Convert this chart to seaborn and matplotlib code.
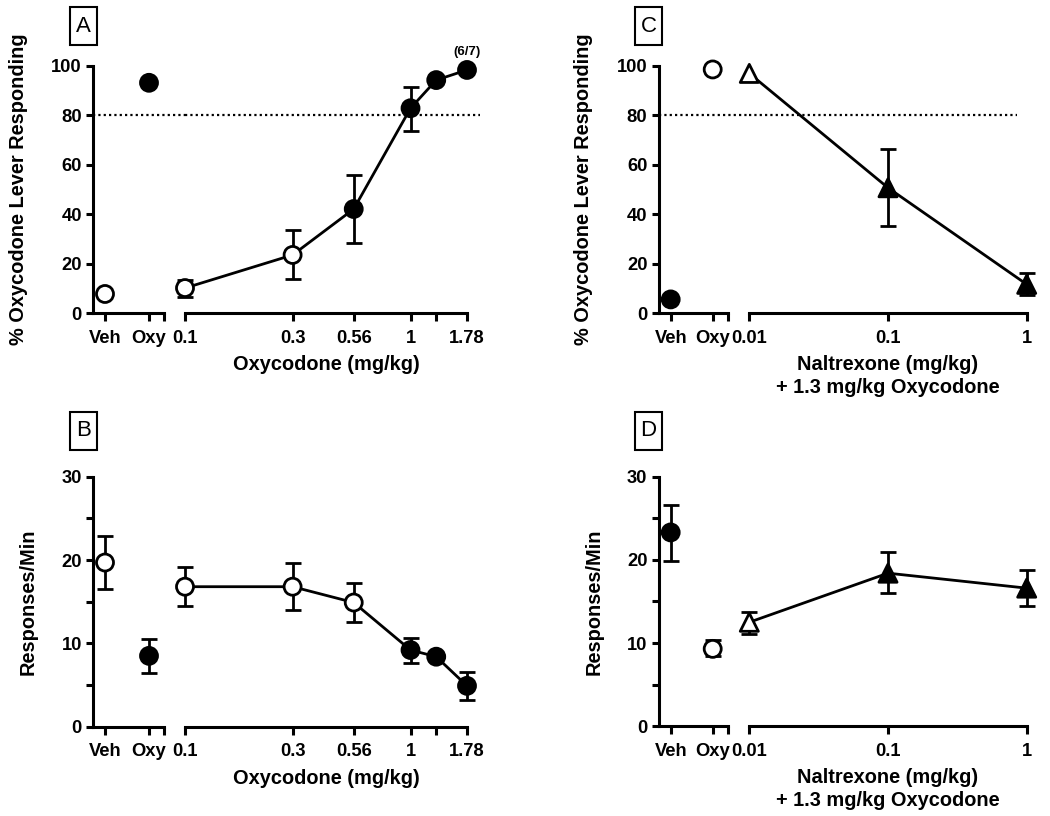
import numpy as np
import pandas as pd
import matplotlib
matplotlib.use('Agg')
import matplotlib.pyplot as plt
from matplotlib.patches import Rectangle
from matplotlib.ticker import NullLocator
import seaborn as sns

# ---- data ----
ctrl_labels = ['Veh', 'Oxy']

# A: % oxycodone lever responding vs oxycodone dose
a_ctrl_y = [7.7, 93.2]
a_ctrl_lo = [np.nan, np.nan]
a_ctrl_hi = [np.nan, np.nan]
a_ctrl_fill = ['open', 'filled']
a_dose = [0.1, 0.3, 0.56, 1.0, 1.3, 1.78]
a_dose_labels = ['0.1', '0.3', '0.56', '1', '', '1.78']
a_y = [10.1, 23.5, 42.1, 82.9, 94.3, 98.4]
a_lo = [6.3, 13.8, 28.5, 73.8, np.nan, np.nan]
a_hi = [13.4, 33.6, 56.0, 91.4, np.nan, np.nan]
a_fill = ['open', 'open', 'filled', 'filled', 'filled', 'filled']

# B: response rate vs oxycodone dose
b_ctrl_y = [19.7, 8.5]
b_ctrl_lo = [16.5, 6.5]
b_ctrl_hi = [22.9, 10.5]
b_ctrl_fill = ['open', 'filled']
b_y = [16.8, 16.8, 14.9, 9.2, 8.4, 4.9]
b_lo = [14.5, 14.0, 12.6, 7.6, np.nan, 3.2]
b_hi = [19.2, 19.7, 17.2, 10.7, np.nan, 6.6]
b_fill = ['open', 'open', 'open', 'filled', 'filled', 'filled']

# C: % oxycodone lever responding vs naltrexone dose (+1.3 mg/kg oxycodone)
c_ctrl_y = [5.5, 98.6]
c_ctrl_lo = [np.nan, np.nan]
c_ctrl_hi = [np.nan, np.nan]
c_ctrl_fill = ['filled', 'open']
c_dose = [0.01, 0.1, 1.0]
c_dose_labels = ['0.01', '0.1', '1']
c_y = [97.0, 50.7, 11.6]
c_lo = [np.nan, 35.4, 7.3]
c_hi = [np.nan, 66.3, 16.3]
c_fill = ['open', 'filled', 'filled']

# D: response rate vs naltrexone dose
d_ctrl_y = [23.3, 9.3]
d_ctrl_lo = [19.9, 8.4]
d_ctrl_hi = [26.6, 10.4]
d_ctrl_fill = ['filled', 'open']
d_y = [12.5, 18.4, 16.6]
d_lo = [11.1, 16.0, 14.4]
d_hi = [13.7, 21.0, 18.8]
d_fill = ['open', 'filled', 'filled']

sns.set_theme(style='ticks')
plt.rcParams['font.family'] = ['Liberation Sans', 'DejaVu Sans']
plt.rcParams['font.weight'] = 'bold'
plt.rcParams['axes.labelweight'] = 'bold'
plt.rcParams['text.color'] = 'black'
plt.rcParams['axes.labelcolor'] = 'black'

W, H = 1050, 816
fig = plt.figure(figsize=(W / 100, H / 100), dpi=100)

fill_pal = {'open': 'white', 'filled': 'black'}
TICK_FS = 13.2
LABEL_FS = 14.4


def box(x0, x1, y0, y1):
    return [x0 / W, 1 - y1 / H, (x1 - x0) / W, (y1 - y0) / H]


def draw_points(ax, x, y, lo, hi, fill, marker, size):
    x = np.asarray(x, float)
    y = np.asarray(y, float)
    lo = np.asarray(lo, float)
    hi = np.asarray(hi, float)
    ok = ~np.isnan(lo)
    if ok.any():
        ax.errorbar(x[ok], y[ok], yerr=[y[ok] - lo[ok], hi[ok] - y[ok]], fmt='none',
                    ecolor='black', elinewidth=2, capsize=6, capthick=2,
                    zorder=2, clip_on=False)
    df = pd.DataFrame({'x': x, 'y': y, 'fill': fill})
    sns.scatterplot(data=df, x='x', y='y', hue='fill', palette=fill_pal, marker=marker,
                    s=size, edgecolor='black', linewidth=2, legend=False, ax=ax,
                    zorder=4, clip_on=False)


def panel(xl, xr, yb, ylim, yticks, ylabel, xlabel,
          ctrl_y, ctrl_lo, ctrl_hi, ctrl_fill, ctrl_px,
          dose, dose_labels, y, lo, hi, fill, marker, minor=None, dotted=None):
    # left part: Veh / Oxy controls
    axl = fig.add_axes(box(xl[0], xl[1], yb[0], yb[1]))
    pos = np.arange(len(ctrl_labels))
    step = ctrl_px[1] - ctrl_px[0]
    lo_lim = (xl[0] - ctrl_px[0]) / step
    hi_lim = (xl[1] - ctrl_px[0]) / step
    draw_points(axl, pos, ctrl_y, ctrl_lo, ctrl_hi, ctrl_fill, 'o', 150)
    axl.set_xlim(lo_lim, hi_lim)
    axl.set_ylim(*ylim)
    axl.set_xticks(list(pos) + [hi_lim])
    axl.set_xticklabels(ctrl_labels + [''])
    axl.set_yticks(yticks)
    if minor is not None:
        axl.set_yticks(minor, minor=True)
    axl.set_ylabel(ylabel, fontsize=LABEL_FS, labelpad=17)
    axl.set_xlabel('')
    # right part: log dose axis
    axr = fig.add_axes(box(xr[0], xr[1], yb[0], yb[1]), sharey=axl)
    axr.set_xscale('log')
    sns.lineplot(x=dose, y=y, color='black', linewidth=2, estimator=None, sort=False,
                 ax=axr, zorder=3)
    draw_points(axr, dose, y, lo, hi, fill, marker, 150 if marker == 'o' else 170)
    axr.set_xlim(dose[0], dose[-1])
    axr.set_xticks(dose)
    axr.set_xticklabels(dose_labels)
    axr.xaxis.set_minor_locator(NullLocator())
    axr.set_xlabel(xlabel, fontsize=LABEL_FS, labelpad=6, linespacing=1.25)
    axr.set_ylabel('')
    for s in ['left', 'top', 'right']:
        axr.spines[s].set_visible(False)
    axr.tick_params(axis='y', left=False, labelleft=False, which='both')
    for s in ['top', 'right']:
        axl.spines[s].set_visible(False)
    for ax in (axl, axr):
        for s in ['left', 'bottom']:
            ax.spines[s].set_linewidth(2.2)
            ax.spines[s].set_color('black')
        ax.tick_params(axis='x', direction='out', length=6, width=2.2, labelsize=TICK_FS,
                       pad=6, colors='black')
        ax.tick_params(axis='y', direction='out', length=5, width=2.2, labelsize=TICK_FS,
                       pad=3, colors='black', which='both')
    if dotted is not None:
        gap = (xr[0] - xl[0]) / (xl[1] - xl[0])
        axl.axhline(dotted[0], xmin=0, xmax=gap, color='black', linestyle=(0, (1, 1.4)),
                    linewidth=1.6, clip_on=False, zorder=1)
        axr.axhline(dotted[0], xmin=0, xmax=dotted[1], color='black',
                    linestyle=(0, (1, 1.4)), linewidth=1.6, clip_on=False, zorder=1)
    return axl, axr


pct_label = '% Oxycodone Lever Responding'
rate_label = 'Responses/Min'
oxy_xlabel = 'Oxycodone (mg/kg)'
nal_xlabel = 'Naltrexone (mg/kg)\n+ 1.3 mg/kg Oxycodone'

axA_l, axA_r = panel((93, 164), (185, 467), (66, 313), (0, 100), [0, 20, 40, 60, 80, 100],
                     pct_label, oxy_xlabel, a_ctrl_y, a_ctrl_lo, a_ctrl_hi, a_ctrl_fill,
                     (105, 149), a_dose, a_dose_labels, a_y, a_lo, a_hi, a_fill, 'o',
                     dotted=(80, 1.046))
axA_r.text(1.78, 105.8, '(6/7)', ha='center', va='center', fontsize=9.5, fontweight='bold')

panel((93, 164), (185, 467), (476.7, 726.7), (0, 30), [0, 10, 20, 30],
      rate_label, oxy_xlabel, b_ctrl_y, b_ctrl_lo, b_ctrl_hi, b_ctrl_fill,
      (105, 149), a_dose, a_dose_labels, b_y, b_lo, b_hi, b_fill, 'o', minor=[5, 15, 25])

panel((658.5, 727.5), (749.3, 1026.7), (66, 313), (0, 100), [0, 20, 40, 60, 80, 100],
      pct_label, nal_xlabel, c_ctrl_y, c_ctrl_lo, c_ctrl_hi, c_ctrl_fill,
      (670.7, 712.7), c_dose, c_dose_labels, c_y, c_lo, c_hi, c_fill, '^',
      dotted=(80, 0.964))

panel((658.5, 727.5), (749.3, 1026.7), (476.7, 726.2), (0, 30), [0, 10, 20, 30],
      rate_label, nal_xlabel, d_ctrl_y, d_ctrl_lo, d_ctrl_hi, d_ctrl_fill,
      (670.7, 712.7), c_dose, c_dose_labels, d_y, d_lo, d_hi, d_fill, '^', minor=[5, 15, 25])

# panel letters in boxes
for letter, x0, y0 in [('A', 70, 7), ('B', 70, 412), ('C', 635, 7), ('D', 635, 412)]:
    fig.patches.append(Rectangle((x0 / W, 1 - (y0 + 38) / H), 27 / W, 38 / H,
                                 transform=fig.transFigure, facecolor='white',
                                 edgecolor='black', linewidth=1.5))
    fig.text((x0 + 13.5) / W, 1 - (y0 + 19) / H, letter, ha='center', va='center',
             fontsize=16, fontweight='normal')

fig.savefig('out.png', dpi=100, facecolor='white')
